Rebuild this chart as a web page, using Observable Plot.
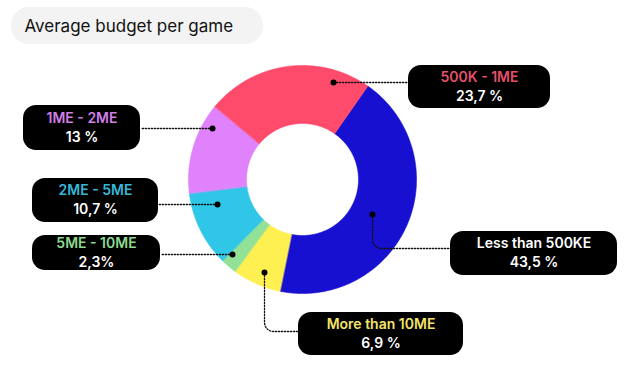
<!DOCTYPE html>
<html><head><meta charset="utf-8">
<script src="https://cdn.jsdelivr.net/npm/d3@7"></script>
<script src="https://cdn.jsdelivr.net/npm/@observablehq/plot@0.6"></script>
<style>body{margin:0;background:#fff}</style>
</head><body><div id="chart"></div>
<script>
// Data
const categories = ["Less than 500KE", "More than 10ME", "5ME - 10ME", "2ME - 5ME", "1ME - 2ME", "500K - 1ME"];
const shares = [43.5, 6.9, 2.3, 10.7, 13, 23.7];
const valueLabels = ["43,5 %", "6,9 %", "2,3%", "10,7 %", "13 %", "23,7 %"];
const title = "Average budget per game";

// Styles
const sliceColors = ["#1710d0", "#fdf050", "#93e196", "#2fc6e8", "#df82fb", "#ff4b6b"];
const labelColors = ["#ffffff", "#f4e46c", "#8ed990", "#35b8d8", "#d07fe9", "#e4506c"];

// Layout (pixels)
const W = 629, H = 385;
const cx = 302, cy = 179, rOuter = 114, rInner = 56, startDeg = 35;
const boxes = [
  {x1: 450, x2: 617, y1: 231, y2: 275, dot: [372, 214], route: "down", ly: 248},
  {x1: 298, x2: 463, y1: 312, y2: 355, dot: [264, 272], route: "down", ly: 331},
  {x1: 32, x2: 160, y1: 235, y2: 270, dot: [232, 254], route: "h"},
  {x1: 32, x2: 158, y1: 178, y2: 222, dot: [217, 204], route: "h"},
  {x1: 23, x2: 140, y1: 105, y2: 150, dot: [212, 128], route: "h"},
  {x1: 408, x2: 550, y1: 65, y2: 108, dot: [333, 82], route: "h"}
];

const pie = d3.pie().sort(null).startAngle(startDeg * Math.PI / 180).endAngle((startDeg + 360) * Math.PI / 180)(shares);
const slicePts = [];
pie.forEach((p, i) => {
  const n = Math.max(4, Math.ceil((p.endAngle - p.startAngle) / 0.01));
  const pt = (r, a) => ({name: categories[i], color: sliceColors[i], x: cx + r * Math.sin(a), y: cy - r * Math.cos(a)});
  for (let k = 0; k <= n; k++) slicePts.push(pt(rOuter, p.startAngle + (p.endAngle - p.startAngle) * k / n));
  for (let k = n; k >= 0; k--) slicePts.push(pt(rInner, p.startAngle + (p.endAngle - p.startAngle) * k / n));
});

const labels = categories.map((c, i) => ({name: c, value: valueLabels[i], color: labelColors[i], ...boxes[i],
  mx: (boxes[i].x1 + boxes[i].x2) / 2, my: (boxes[i].y1 + boxes[i].y2) / 2}));

const connectors = [];
labels.forEach(l => {
  const [dx, dy] = l.dot;
  if (l.route === "h") {
    const ex = dx > l.x2 ? l.x2 : l.x1;
    connectors.push({name: l.name, x: dx, y: dy}, {name: l.name, x: ex, y: dy});
  } else {
    const rc = 9;
    connectors.push({name: l.name, x: dx, y: dy}, {name: l.name, x: dx, y: l.ly - rc});
    for (let k = 1; k < 8; k++) {
      const a = (Math.PI / 2) * k / 8;
      connectors.push({name: l.name, x: dx + rc - rc * Math.cos(a), y: l.ly - rc + rc * Math.sin(a)});
    }
    connectors.push({name: l.name, x: dx + rc, y: l.ly}, {name: l.name, x: l.x1, y: l.ly});
  }
});

const chart = Plot.plot({
  width: W, height: H,
  margin: 0,
  x: {domain: [0, W], range: [0, W], axis: null},
  y: {domain: [0, H], range: [0, H], axis: null},
  color: {type: "identity"},
  style: {fontFamily: "Inter, 'Open Sans', sans-serif", background: "#fff"},
  marks: [
    Plot.rect([{}], {x1: 11, x2: 263, y1: 7, y2: 44, rx: 18, fill: "#f3f3f3"}),
    Plot.text([title], {x: 24, y: 26, text: d => d, textAnchor: "start", fontSize: 17, fill: "#111", fontWeight: 400, letterSpacing: 0.25}),
    Plot.line(slicePts, {x: "x", y: "y", z: "name", fill: "color", stroke: "color", strokeWidth: 0.6, curve: "linear-closed"}),
    Plot.line(connectors, {x: "x", y: "y", z: "name", stroke: "#111", strokeWidth: 1.3, strokeDasharray: "1.3,1.7"}),
    Plot.dot(labels, {x: d => d.dot[0], y: d => d.dot[1], r: 3, fill: "#000"}),
    Plot.rect(labels, {x1: "x1", x2: "x2", y1: "y1", y2: "y2", rx: 13, fill: "#000"}),
    Plot.text(labels, {x: "mx", y: d => d.my - 9.5, text: "name", fill: "color", fontSize: 14, fontWeight: 600, letterSpacing: 0.3}),
    Plot.text(labels, {x: "mx", y: d => d.my + 9.5, text: "value", fill: "#fff", fontSize: 14, fontWeight: 600, letterSpacing: 0.3})
  ]
});
document.getElementById("chart").append(chart);
</script></body></html>
